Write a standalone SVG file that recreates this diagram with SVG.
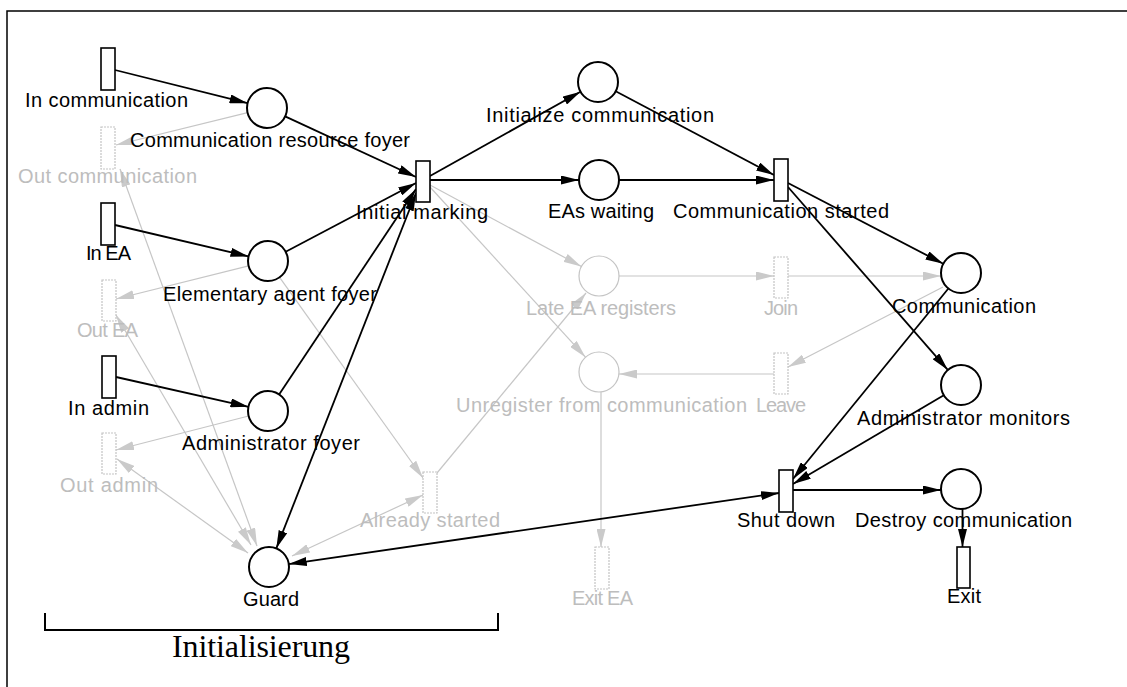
<svg xmlns="http://www.w3.org/2000/svg" width="1127" height="687" viewBox="0 0 1127 687">
  <style>
    .lbl { font-family: "Liberation Sans", Arial, sans-serif; font-size: 20px; fill: #000; }
    .lbl.dim { fill: #bdbdbd; }
    .place { fill: #fff; stroke: #000; stroke-width: 2; }
    .place.dim { stroke: #c4c4c4; stroke-width: 1.2; }
    .trans { fill: #fff; stroke: #000; stroke-width: 1.6; }
    .trans.dim { stroke: #c4c4c4; stroke-width: 1.2; stroke-dasharray: 2 1; }
    .arc { fill: none; stroke: #000; stroke-width: 1.8; marker-end: url(#ah); }
    .arc.both { marker-start: url(#ah); }
    .arc.dim { stroke: #c6c6c6; stroke-width: 1.2; marker-end: url(#ahg); }
    .arc.dim.both { marker-start: url(#ahg); }
    .arc.dim.plain { marker-end: none; }
    .frame { fill: none; stroke: #000; stroke-width: 1.5; }
  </style>
  <defs>
    <marker id="ah" markerUnits="userSpaceOnUse" markerWidth="18" markerHeight="9" refX="18" refY="4.5" orient="auto-start-reverse">
      <path d="M0,0 L18,4.5 L0,9 z" fill="#000"/>
    </marker>
    <marker id="ahg" markerUnits="userSpaceOnUse" markerWidth="18" markerHeight="9" refX="18" refY="4.5" orient="auto-start-reverse">
      <path d="M0,0 L18,4.5 L0,9 z" fill="#cacaca"/>
    </marker>
  </defs>

  <rect x="0" y="0" width="1127" height="687" fill="#fff"/>
  <!-- outer frame: only top and left edges fall inside the page -->
  <path class="frame" d="M7,687 V11 H1127"/>

  <!-- arcs -->
  <g id="connectors">
    <!-- inactive (grey) arcs -->
    <path class="arc dim" d="M247.6,112.7 L116,145"/>
    <path class="arc dim" d="M248.6,265.9 L116,299"/>
    <path class="arc dim" d="M248.6,416 L116,450"/>
    <path class="arc dim both" d="M120,169 L257,546"/>
    <path class="arc dim both" d="M116,315 L251,545"/>
    <path class="arc dim both" d="M117,459 L248,553"/>
    <path class="arc dim" d="M279.6,277.3 L423,478"/>
    <path class="arc dim both" d="M292,556 L423,495"/>
    <path class="arc dim" d="M437,473 L586,293"/>
    <path class="arc dim" d="M430,185 L581.4,266.5"/>
    <path class="arc dim" d="M430,187 L585.5,357.2"/>
    <path class="arc dim" d="M619,276 L774,276"/>
    <path class="arc dim" d="M788,276 L941,276"/>
    <path class="arc dim" d="M943,287 L788,367"/>
    <path class="arc dim" d="M774,374 L619,374"/>
    <path class="arc dim" d="M601,392 L601,547"/>

    <!-- active (black) arcs -->
    <path class="arc" d="M115,70 L247.6,103.2"/>
    <path class="arc" d="M285.1,116.4 L416,177"/>
    <path class="arc" d="M115,225 L248.5,256.4"/>
    <path class="arc" d="M285.7,251.7 L416,183"/>
    <path class="arc" d="M116,377 L248.5,406.8"/>
    <path class="arc" d="M279.1,394.4 L416,189"/>
    <path class="arc both" d="M276.3,548.4 L416,193"/>
    <path class="arc" d="M430,176 L580.5,91.8"/>
    <path class="arc" d="M430,180 L579,180"/>
    <path class="arc" d="M615.7,91.3 L774,175"/>
    <path class="arc" d="M619,180 L774,180"/>
    <path class="arc" d="M788,183 L943.3,263.8"/>
    <path class="arc" d="M788,187 L947.8,369.9"/>
    <path class="arc" d="M948.4,288.5 L793,479"/>
    <path class="arc" d="M943.8,395.2 L793,484"/>
    <path class="arc" d="M793,490 L941,490"/>
    <path class="arc" d="M962.5,509 L962.5,547"/>
    <path class="arc both" d="M288.8,564.1 L779,493"/>
  </g>

  <!-- left column: entry / exit transitions -->
  <g id="in-communication">
    <rect class="trans" x="101" y="48" width="14" height="42"/>
    <text class="lbl" x="25" y="107" textLength="163">In communication</text>
  </g>
  <g id="out-communication">
    <rect class="trans dim" x="101" y="127" width="14" height="42"/>
    <text class="lbl dim" x="18" y="183" textLength="179">Out communication</text>
  </g>
  <g id="in-ea">
    <rect class="trans" x="101" y="203" width="14" height="42"/>
    <text class="lbl" x="86" y="260" textLength="45">In EA</text>
  </g>
  <g id="out-ea">
    <rect class="trans dim" x="102" y="280" width="14" height="41"/>
    <text class="lbl dim" x="77" y="337" textLength="61">Out EA</text>
  </g>
  <g id="in-admin">
    <rect class="trans" x="102" y="356" width="14" height="42"/>
    <text class="lbl" x="68" y="415" textLength="81">In admin</text>
  </g>
  <g id="out-admin">
    <rect class="trans dim" x="102" y="433" width="14" height="41"/>
    <text class="lbl dim" x="60" y="492" textLength="98">Out admin</text>
  </g>

  <!-- foyer places -->
  <g id="communication-resource-foyer">
    <circle class="place" cx="267" cy="108" r="20"/>
    <text class="lbl" x="130" y="147" textLength="280">Communication resource foyer</text>
  </g>
  <g id="elementary-agent-foyer">
    <circle class="place" cx="268" cy="261" r="20"/>
    <text class="lbl" x="163" y="301" textLength="214">Elementary agent foyer</text>
  </g>
  <g id="administrator-foyer">
    <circle class="place" cx="268" cy="411" r="20"/>
    <text class="lbl" x="182" y="450" textLength="178">Administrator foyer</text>
  </g>
  <g id="guard">
    <circle class="place" cx="269" cy="567" r="20"/>
    <text class="lbl" x="243" y="606" textLength="56">Guard</text>
  </g>

  <!-- initialisation transitions -->
  <g id="initial-marking">
    <rect class="trans" x="416" y="161" width="14" height="41"/>
    <text class="lbl" x="356" y="219" textLength="132">Initial marking</text>
  </g>
  <g id="already-started">
    <rect class="trans dim" x="423" y="472" width="14" height="41"/>
    <text class="lbl dim" x="360" y="527" textLength="140">Already started</text>
  </g>

  <!-- middle column -->
  <g id="initialize-communication">
    <circle class="place" cx="598" cy="82" r="20"/>
    <text class="lbl" x="486" y="122" textLength="228">Initialize communication</text>
  </g>
  <g id="eas-waiting">
    <circle class="place" cx="599" cy="180" r="20"/>
    <text class="lbl" x="548" y="218" textLength="106">EAs waiting</text>
  </g>
  <g id="late-ea-registers">
    <circle class="place dim" cx="599" cy="276" r="20"/>
    <text class="lbl dim" x="526" y="315" textLength="150">Late EA registers</text>
  </g>
  <g id="unregister-from-communication">
    <circle class="place dim" cx="599" cy="372" r="20"/>
    <text class="lbl dim" x="456" y="412" textLength="291">Unregister from communication</text>
  </g>
  <g id="exit-ea">
    <rect class="trans dim" x="595" y="547" width="14" height="42"/>
    <text class="lbl dim" x="572" y="605" textLength="61">Exit EA</text>
  </g>

  <!-- communication transitions -->
  <g id="communication-started">
    <rect class="trans" x="774" y="159" width="14" height="42"/>
    <text class="lbl" x="673" y="218" textLength="216">Communication started</text>
  </g>
  <g id="join">
    <rect class="trans dim" x="774" y="257" width="14" height="41"/>
    <text class="lbl dim" x="764" y="315" textLength="34">Join</text>
  </g>
  <g id="leave">
    <rect class="trans dim" x="774" y="353" width="14" height="41"/>
    <text class="lbl dim" x="756" y="412" textLength="50">Leave</text>
  </g>
  <g id="shut-down">
    <rect class="trans" x="779" y="470" width="14" height="42"/>
    <text class="lbl" x="737" y="527" textLength="98">Shut down</text>
  </g>

  <!-- right column -->
  <g id="communication">
    <circle class="place" cx="961" cy="273" r="20"/>
    <text class="lbl" x="892" y="313" textLength="144">Communication</text>
  </g>
  <g id="administrator-monitors">
    <circle class="place" cx="961" cy="385" r="20"/>
    <text class="lbl" x="857" y="425" textLength="213">Administrator monitors</text>
  </g>
  <g id="destroy-communication">
    <circle class="place" cx="961" cy="489" r="20"/>
    <text class="lbl" x="855" y="527" textLength="217">Destroy communication</text>
  </g>
  <g id="exit">
    <rect class="trans" x="957" y="547" width="13" height="41"/>
    <text class="lbl" x="947" y="603" textLength="34">Exit</text>
  </g>

  <!-- section bracket -->
  <g id="initialisierung">
    <path d="M45,613 V630 H498 V613" fill="none" stroke="#000" stroke-width="2"/>
    <text x="172" y="657" textLength="178" font-family="'Liberation Serif', 'Times New Roman', serif" font-size="32">Initialisierung</text>
  </g>
</svg>
